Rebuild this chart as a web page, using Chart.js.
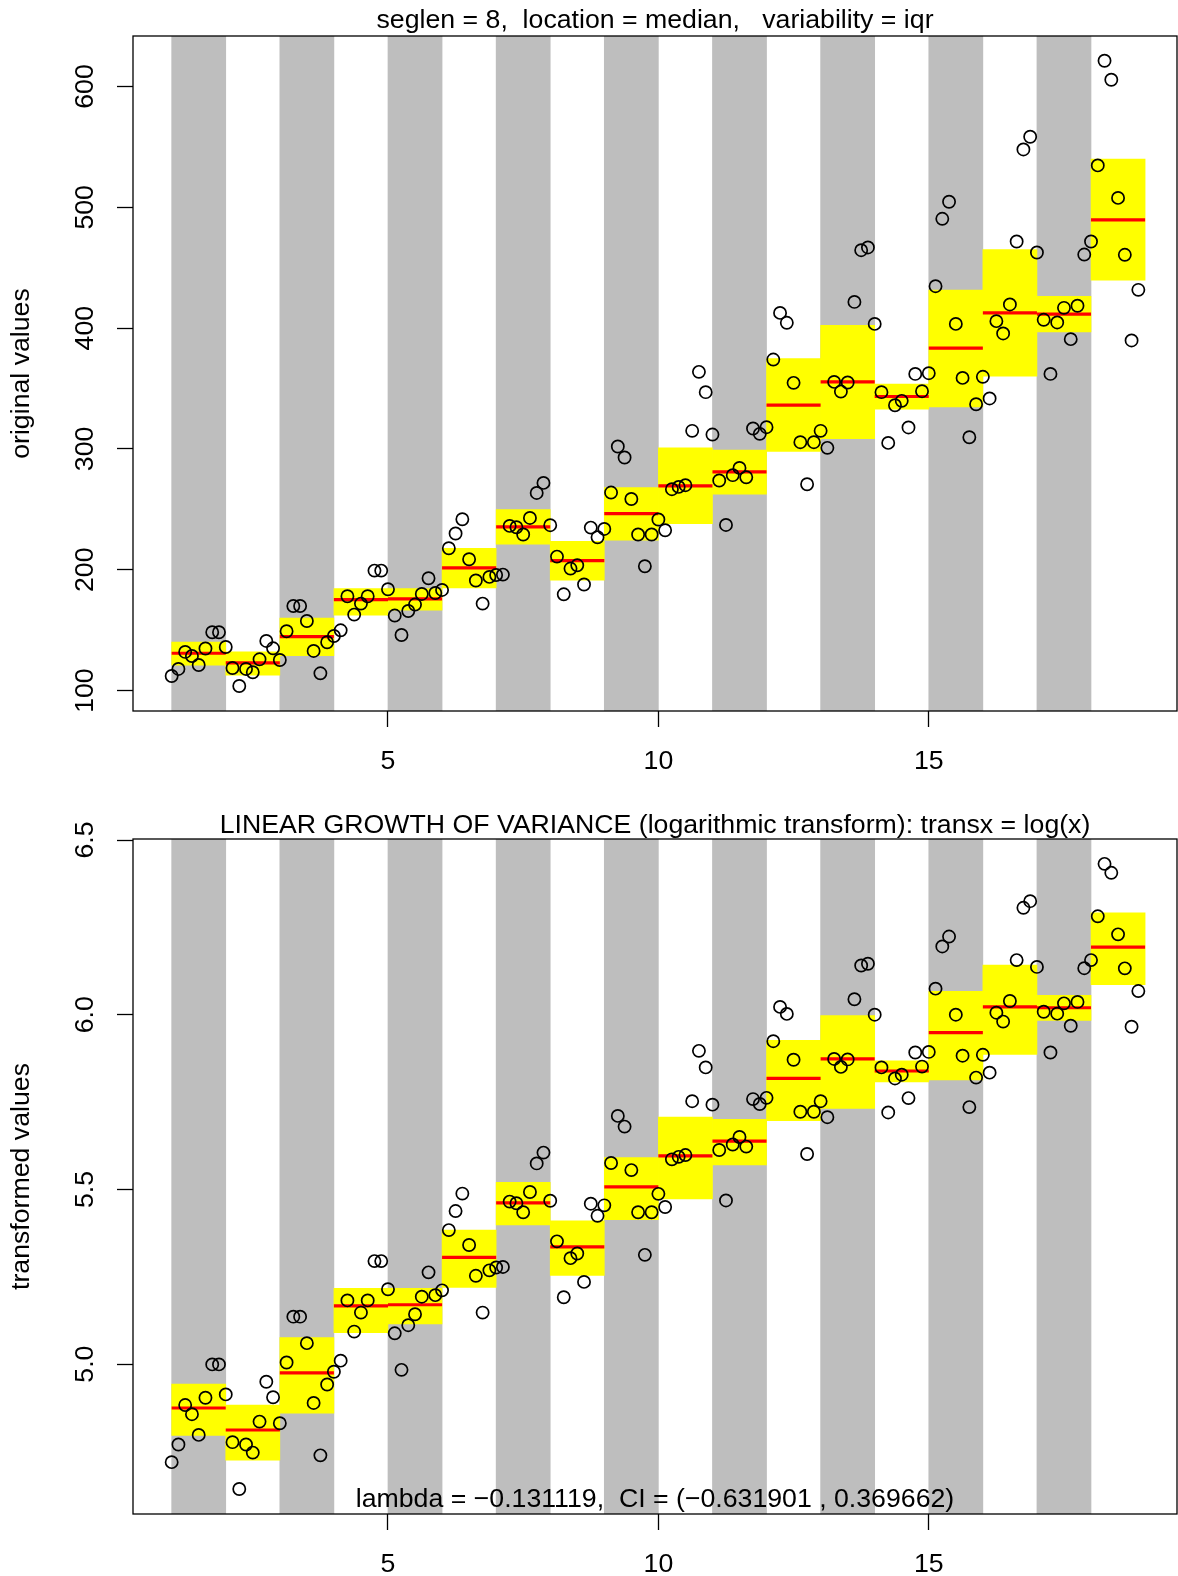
<!DOCTYPE html>
<html>
<head>
<meta charset="utf-8">
<script src="https://cdn.jsdelivr.net/npm/chart.js@4/dist/chart.umd.min.js"></script>
<style>
html, body { margin: 0; padding: 0; background: #ffffff; }
#wrap { position: relative; width: 1178px; height: 1576px; overflow: hidden; background: #ffffff; }
canvas { position: absolute; left: 0; }
</style>
</head>
<body>
<div id="wrap">
  <canvas id="c1" width="1178" height="790" style="top:0px"></canvas>
  <canvas id="c2" width="1178" height="786" style="top:790px"></canvas>
</div>
<script>
// ---------------- data ----------------
const seglen = 8;
// original observations, in time order (8 per segment, 18 segments)
const observedValues = [
  112.1, 117.9, 132.0, 128.6, 121.2, 134.8, 148.3, 148.3,
  136.1, 118.7, 103.8, 117.9, 115.2, 125.9, 141.1, 135.0,
  125.3, 149.1, 170.0, 170.0, 157.6, 132.8, 114.3, 140.0,
  145.2, 149.9, 178.1, 162.9, 172.0, 178.1, 199.3, 199.3,
  183.9, 162.1, 146.0, 165.9, 171.2, 180.0, 193.0, 180.8,
  183.3, 217.8, 230.0, 241.8, 208.7, 191.1, 172.0, 194.1,
  195.7, 196.0, 236.3, 235.2, 229.2, 242.9, 263.6, 271.9,
  236.9, 210.9, 179.7, 201.0, 203.7, 187.8, 234.9, 226.9,
  233.8, 263.9, 302.0, 292.9, 258.6, 229.2, 202.9, 229.2,
  241.6, 232.7, 266.7, 268.6, 270.0, 315.0, 363.8, 347.0,
  311.9, 273.9, 237.1, 278.3, 284.3, 276.6, 316.9, 312.5,
  318.0, 374.0, 412.6, 404.4, 354.7, 305.6, 270.8, 305.6,
  315.0, 300.9, 355.5, 347.5, 355.0, 421.7, 464.5, 466.8,
  403.5, 347.0, 305.0, 336.2, 339.8, 317.8, 362.1, 347.8,
  362.7, 434.7, 490.5, 504.6, 403.5, 358.8, 309.7, 337.0,
  359.7, 341.8, 405.8, 395.6, 419.6, 471.7, 547.9, 558.4,
  462.6, 406.9, 362.1, 404.7, 416.8, 390.9, 418.5, 460.9,
  471.7, 534.7, 621.3, 605.6, 507.8, 460.7, 389.8, 431.7
];
const segmentNumbers = [1, 2, 3, 4, 5, 6, 7, 8, 9, 10, 11, 12, 13, 14, 15, 16, 17, 18];
const segmentMedian = [130.9, 122.9, 144.7, 175.3, 175.9, 201.5, 235.5, 207.6, 246.5, 269.4, 281.0, 336.2, 355.5, 343.4, 383.4, 412.6, 411.6, 489.6];
const segmentQ1 = [121.0, 112.7, 129.0, 162.4, 166.5, 184.9, 221.1, 191.3, 224.4, 238.2, 262.5, 297.9, 308.6, 332.9, 334.8, 360.2, 396.9, 439.7];
const segmentQ3 = [140.2, 132.0, 160.1, 184.4, 184.4, 217.8, 249.8, 223.6, 268.1, 300.9, 299.0, 374.9, 402.4, 353.6, 431.4, 465.1, 426.4, 539.9];
const shadedSegments = [1, 3, 5, 7, 9, 11, 13, 15, 17];

const xTicks = [5, 10, 15];
const yTicksOriginal = [100, 200, 300, 400, 500, 600];
const yTicksTransformed = [5.0, 5.5, 6.0, 6.5];
const xRange = [0.285, 19.59];
const yRangeOriginal = [83.1, 641.8];
const yRangeTransformed = [4.571, 6.503];

const titleTop = 'seglen = 8,  location = median,   variability = iqr';
const titleBottom = 'LINEAR GROWTH OF VARIANCE (logarithmic transform): transx = log(x)';
const noteBottom = 'lambda = \u22120.131119,  CI = (\u22120.631901 , 0.369662)';
const yTitleTop = 'original values';
const yTitleBottom = 'transformed values';

// transform shown in the lower panel: transx = log(x)
const transx = v => Math.log(v);

// ---------------- styling ----------------
const FONT_FAMILY = '"Liberation Sans", Arial, Helvetica, sans-serif';
const FS = 26.7;

const framePlugin = {
  id: 'frame',
  afterDatasetsDraw(chart, args, opts) {
    const { ctx, chartArea: a } = chart;
    ctx.save();
    ctx.strokeStyle = '#000000';
    ctx.lineWidth = 1.3;
    ctx.strokeRect(a.left, a.top, a.right - a.left, a.bottom - a.top);
    ctx.fillStyle = '#000000';
    ctx.font = FS + 'px ' + FONT_FAMILY;
    ctx.textAlign = 'center';
    ctx.textBaseline = 'alphabetic';
    const cx = (a.left + a.right) / 2;
    if (opts.title) ctx.fillText(opts.title, cx, a.top - opts.titleGap);
    if (opts.note) ctx.fillText(opts.note, cx, a.bottom - opts.noteGap);
    ctx.restore();
  }
};

function makeChart(canvasId, values, med, q1, q3, yRange, yTicks, yTitle, fmt, yPad, padTop, xAxisH, title, titleGap, note) {
  const pts = values.map((v, i) => ({ x: 1 + i / seglen, y: v }));
  const boxes = segmentNumbers.map((s, i) => ({ x: s + 0.5, y: [q1[i], q3[i]] }));
  const bands = shadedSegments.map(s => ({ x: s + 0.5, y: [yRange[0], yRange[1]] }));
  const medLine = [];
  segmentNumbers.forEach((s, i) => {
    medLine.push({ x: s, y: med[i] }, { x: s + 1, y: med[i] }, { x: s + 1, y: null });
  });

  const tickFont = { family: FONT_FAMILY, size: FS };
  const gridCfg = {
    display: true, drawOnChartArea: false, drawTicks: true, offset: false,
    tickLength: 16, tickWidth: 1.3, tickColor: '#000000', color: '#000000'
  };

  return new Chart(document.getElementById(canvasId), {
    type: 'scatter',
    data: {
      datasets: [
        { type: 'bar', data: bands, backgroundColor: '#BEBEBE', borderWidth: 0,
          grouped: false, barPercentage: 1, categoryPercentage: 1, order: 4 },
        { type: 'bar', data: boxes, backgroundColor: '#FFFF00', borderWidth: 0,
          grouped: false, barPercentage: 1, categoryPercentage: 1, order: 3 },
        { type: 'line', data: medLine, borderColor: '#FF0000', borderWidth: 3.2,
          borderCapStyle: 'butt', pointRadius: 0, spanGaps: false, fill: false, tension: 0, order: 2 },
        { type: 'scatter', data: pts, pointRadius: 6.1, pointBorderWidth: 1.7,
          borderColor: '#000000', pointBorderColor: '#000000',
          backgroundColor: 'rgba(0,0,0,0)', pointBackgroundColor: 'rgba(0,0,0,0)',
          showLine: false, order: 1 }
      ]
    },
    options: {
      responsive: false,
      maintainAspectRatio: false,
      devicePixelRatio: 1,
      animation: false,
      events: [],
      layout: { autoPadding: false, padding: { top: padTop, right: 1, bottom: 0, left: 0 } },
      plugins: {
        legend: { display: false },
        tooltip: { enabled: false },
        frame: { title: title, titleGap: titleGap, note: note, noteGap: 6.7 }
      },
      scales: {
        x: {
          type: 'linear', min: xRange[0], max: xRange[1], offset: false,
          afterBuildTicks: s => { s.ticks = xTicks.map(v => ({ value: v })); },
          afterFit: s => { s.height = xAxisH; },
          grid: gridCfg,
          border: { display: false },
          ticks: { color: '#000000', font: tickFont, padding: 19, maxRotation: 0, minRotation: 0,
                   autoSkip: false, callback: v => String(v) }
        },
        y: {
          type: 'linear', min: yRange[0], max: yRange[1], offset: false,
          afterBuildTicks: s => { s.ticks = yTicks.map(v => ({ value: v })); },
          afterFit: s => { s.width = 133; },
          grid: gridCfg,
          border: { display: false },
          ticks: { color: '#000000', font: tickFont, padding: yPad, minRotation: 90, maxRotation: 90,
                   crossAlign: 'center', autoSkip: false, callback: fmt },
          title: { display: true, text: yTitle, color: '#000000', font: tickFont, padding: { top: 6, bottom: 0 } }
        }
      }
    },
    plugins: [framePlugin]
  });
}

makeChart('c1', observedValues, segmentMedian, segmentQ1, segmentQ3,
  yRangeOriginal, yTicksOriginal, yTitleTop, v => String(Math.round(v)), 9.2,
  36, 79, titleTop, 8, null);

makeChart('c2', observedValues.map(transx), segmentMedian.map(transx), segmentQ1.map(transx), segmentQ3.map(transx),
  yRangeTransformed, yTicksTransformed, yTitleBottom, v => Number(v).toFixed(1), 12.9,
  49, 62, titleBottom, 6, noteBottom);
</script>
</body>
</html>
